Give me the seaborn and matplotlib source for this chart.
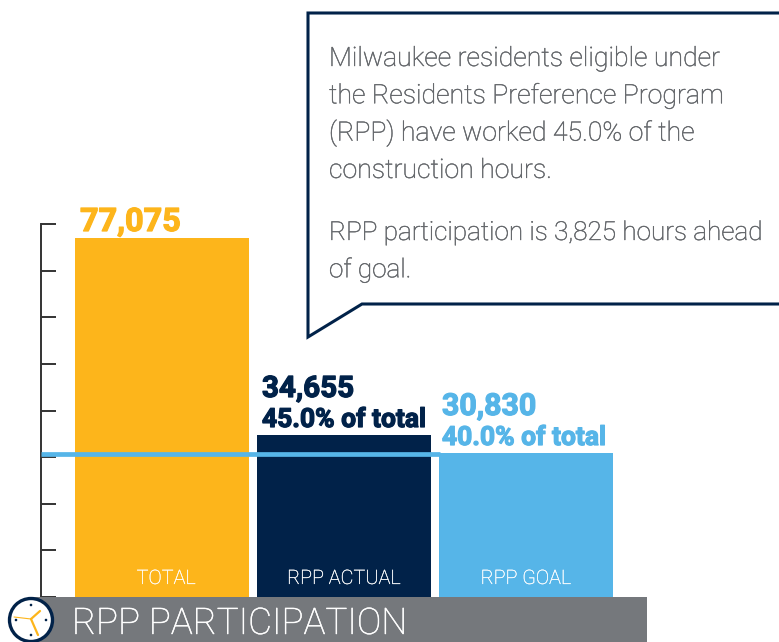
import matplotlib
matplotlib.use('Agg')
import matplotlib.pyplot as plt
import matplotlib.patheffects as pe
from matplotlib.patches import Circle, Rectangle
import pandas as pd
import seaborn as sns

# chart values
categories = ['TOTAL', 'RPP ACTUAL', 'RPP GOAL']
hours = [77075, 34655, 30830]
hour_labels = ['77,075', '34,655', '30,830']
share_labels = [None, '45.0% of total', '40.0% of total']
bar_colors = ['#FDB51B', '#012249', '#56B5E8']
yticks = [0, 10000, 20000, 30000, 40000, 50000, 60000, 70000, 80000]
goal_line = 30600  # line sits a touch under the goal bar's top in the picture

callout_lines = ['Milwaukee residents eligible under',
                 'the Residents Preference Program',
                 '(RPP) have worked 45.0% of the',
                 'construction hours.']
callout_lines2 = ['RPP participation is 3,825 hours ahead', 'of goal.']
footer = 'RPP PARTICIPATION'

W, H = 779, 642
GREY = '#75787C'
TEXT_GREY = '#63666A'
NAVY = '#012249'

sns.set_style('white')
plt.rcParams['font.family'] = ['Roboto', 'DejaVu Sans']

fig = plt.figure(figsize=(W / 100, H / 100), dpi=100)

# bar axes, placed in pixels
left, right, top, bottom = 41, 779, 224, 597
ax = fig.add_axes([left / W, 1 - bottom / H, (right - left) / W, (bottom - top) / H])
df = pd.DataFrame({'cat': categories, 'hours': hours})
sns.barplot(data=df, x='cat', y='hours', hue='cat', palette=bar_colors, legend=False,
            width=0.956, saturation=1, linewidth=0, ax=ax)
ax.set_xlim(-(162 - left) / 182, (right - 162) / 182)
ax.set_ylim(0, 80000)
ax.set_yticks(yticks)
ax.set_yticklabels([])
ax.set_xticks([])
ax.set_xlabel('')
ax.set_ylabel('')
ax.tick_params(axis='y', direction='in', length=10.5, width=1.4, color='#333333', left=True)
for s in ['top', 'right', 'bottom']:
    ax.spines[s].set_visible(False)
ax.spines['left'].set_color('#333333')
ax.spines['left'].set_linewidth(1.4)
ax.patch.set_alpha(0)

# goal line runs from the axis into the goal bar
ax.plot([-(162 - left) / 182, 1.53], [goal_line, goal_line], color='#56B5E8', lw=3.4,
        solid_capstyle='butt', zorder=5, clip_on=False)


def thicken(t, color, width=0.3):
    # Roboto Light is a bit thin next to the original face
    t.set_path_effects([pe.withStroke(linewidth=width, foreground=color)])


# bar captions, TOTAL sits a little right of centre
caption_shift = [3, 0, 0]
for i, c in enumerate(categories):
    t = ax.annotate(c, (i, 0), xytext=(caption_shift[i], 6.5), textcoords='offset points', ha='center',
                    va='bottom', color='#FFFFFF', fontsize=14.3, fontweight='light')
    thicken(t, '#FFFFFF', 0.2)

# pixel overlay for labels and furniture
ov = fig.add_axes([0, 0, 1, 1], facecolor='none')
ov.set_xlim(0, W)
ov.set_ylim(H, 0)
ov.axis('off')


def heavy(x, y, s, color, size):
    t = ov.text(x, y, s, color=color, fontsize=size, fontweight='bold', va='baseline')
    thicken(t, color, 0.9)


heavy(80, 231, hour_labels[0], bar_colors[0], 23.3)
heavy(262, 397, hour_labels[1], bar_colors[1], 21.3)
heavy(262, 427, share_labels[1], bar_colors[1], 19)
heavy(442, 415, hour_labels[2], bar_colors[2], 21.8)
heavy(442, 445, share_labels[2], bar_colors[2], 19)

# callout box
ov.plot([779, 308, 308, 362, 779], [13, 13, 337, 304, 304], color=NAVY, lw=2.2,
        solid_joinstyle='miter', clip_on=False)
for i, line in enumerate(callout_lines):
    t = ov.text(329, 66 + i * 37.3, line, color=TEXT_GREY, fontsize=19.2, fontweight='light', va='baseline')
    thicken(t, TEXT_GREY)
for i, line in enumerate(callout_lines2):
    t = ov.text(329, 240 + i * 37.3, line, color=TEXT_GREY, fontsize=18.8, fontweight='light', va='baseline')
    thicken(t, TEXT_GREY)

# footer band and clock icon
ov.add_patch(Rectangle((30, 597), 617, 45, color=GREY, lw=0))
t = ov.text(72, 634, footer, color='#FFFFFF', fontsize=26.4, fontweight='light', va='baseline')
thicken(t, '#FFFFFF', 0.3)
ov.add_patch(Circle((31, 620), 21.5, facecolor='#FFFFFF', edgecolor=NAVY, lw=2.4, clip_on=False))
for dx, dy in [(0, -15), (15, 0), (0, 15), (-15, 0)]:
    ov.add_patch(Circle((31 + dx, 620 + dy), 1.3, color=NAVY, lw=0))
ov.plot([31, 40], [619, 611], color='#FDB51B', lw=1.6)
ov.plot([31, 38], [619, 635], color='#FDB51B', lw=1.6)
ov.plot([31, 14], [619, 617], color='#FDB51B', lw=0.8)

fig.savefig('out.png', dpi=100)
